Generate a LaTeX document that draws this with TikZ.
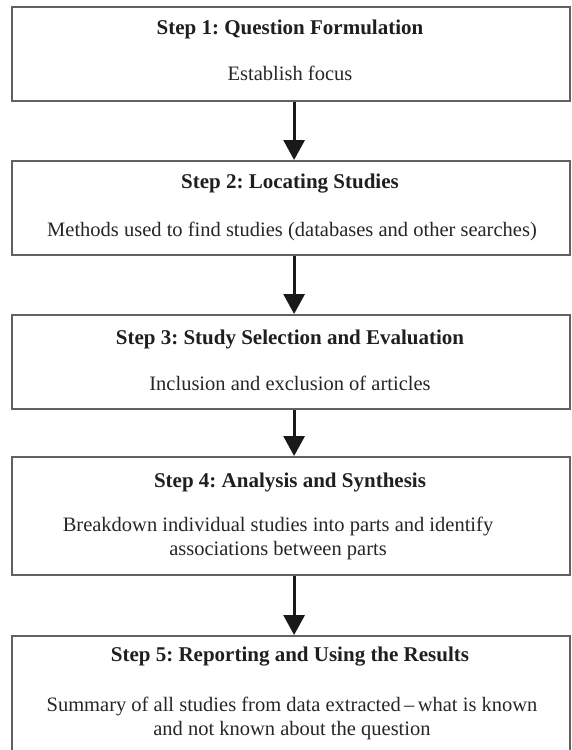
\documentclass[tikz,border=0pt]{standalone}
\usepackage{fontspec}
\setmainfont{Liberation Serif}
\usetikzlibrary{arrows.meta}
\frenchspacing
\begin{document}
\begin{tikzpicture}[x=1pt,y=1pt,
  stepbox/.style={draw=black!62, line width=2.2pt, rectangle, inner sep=0pt, anchor=north west},
  ttl/.style={anchor=base, font=\fontsize{21}{25}\selectfont\bfseries, text=black!88, inner sep=0pt},
  dsc/.style={anchor=base, font=\fontsize{20.5}{24}\selectfont, text=black!85, inner sep=0pt, align=center},
  flow/.style={draw=black!90, line width=3pt, -{Triangle[length=20pt,width=21pt]}, shorten >=0pt}
]
\useasboundingbox (0,0) rectangle (571,-750);
\node[stepbox, minimum width=558, minimum height=94] (b1) at (11,-6) {};
\node[stepbox, minimum width=558, minimum height=94] (b2) at (11,-160) {};
\node[stepbox, minimum width=558, minimum height=94] (b3) at (11,-314) {};
\node[stepbox, minimum width=558, minimum height=118] (b4) at (11,-456) {};
\node[stepbox, minimum width=558, minimum height=130] (b5) at (11,-635) {};

\node[ttl] (t1) at (290,-34) {Step 1: Question Formulation};
\node[dsc] (d1) at (290,-80) {Establish focus};
\node[ttl] (t2) at (290,-188) {Step 2: Locating Studies};
\node[dsc] (d2) at (292,-236) {Methods used to find studies (databases and other searches)};
\node[ttl] (t3) at (290,-344) {Step 3: Study Selection and Evaluation};
\node[dsc] (d3) at (290,-390) {Inclusion and exclusion of articles};
\node[ttl] (t4) at (290,-487) {Step 4: Analysis and Synthesis};
\node[dsc] (d4) at (278,-555) {Breakdown individual studies into parts and identify\\associations between parts};
\node[ttl] (t5) at (290,-661) {Step 5: Reporting and Using the Results};
\node[dsc] (d5) at (292,-735) {Summary of all studies from data extracted\,--\,what is known\\and not known about the question};

\draw[flow] ([xshift=3pt]b1.south) -- ([xshift=3pt]b2.north);
\draw[flow] ([xshift=3pt]b2.south) -- ([xshift=3pt]b3.north);
\draw[flow] ([xshift=3pt]b3.south) -- ([xshift=3pt]b4.north);
\draw[flow] ([xshift=3pt]b4.south) -- ([xshift=3pt]b5.north);
\end{tikzpicture}
\end{document}
